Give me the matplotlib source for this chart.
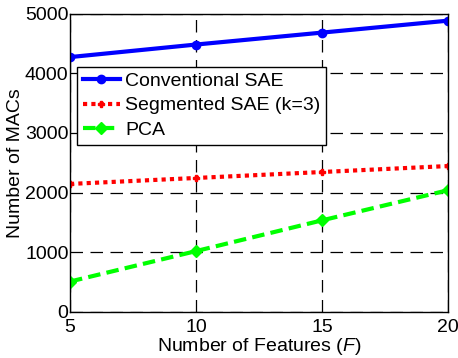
import numpy as np
import matplotlib.pyplot as plt

plt.rcParams['font.family'] = ['Liberation Sans', 'DejaVu Sans']
plt.rcParams['mathtext.fontset'] = 'custom'
plt.rcParams['mathtext.it'] = 'Liberation Sans:italic'

features = [5, 10, 15, 20]
conventional = [4270, 4480, 4680, 4880]
segmented = [2145, 2245, 2345, 2445]
pca = [510, 1020, 1535, 2040]

fig = plt.figure(figsize=(4.58, 3.58), dpi=100)
ax = fig.add_axes([70 / 458, 1 - 312 / 358, 378 / 458, 298.5 / 358])

ax.plot(features, conventional, color='#0000ff', lw=3, marker='o', ms=6,
        label='Conventional SAE')
ax.plot(features, segmented, color='#ff0000', lw=3, ls=(0, (1, 1)), marker='P', ms=5,
        label='Segmented SAE (k=3)')
ax.plot(features, pca, color='#00ff00', lw=3, ls=(0, (3, 1.5)), marker='D', ms=6,
        label='PCA')

ax.set_xlim(5, 20)
ax.set_ylim(0, 5000)
ax.set_xticks([5, 10, 15, 20])
ax.set_yticks(np.arange(0, 5001, 1000))
ax.grid(True, color='black', ls=(0, (10, 6)), lw=0.9)
ax.tick_params(labelsize=14, direction='in', length=0)
ax.tick_params(axis='x', pad=5)
ax.tick_params(axis='y', pad=1)
for s in ax.spines.values():
    s.set_linewidth(1)

ax.set_xlabel('Number of Features ($F$)', fontsize=14, labelpad=0)
ax.set_ylabel('Number of MACs', fontsize=14, labelpad=1)

leg = ax.legend(loc='upper left', bbox_to_anchor=(0.018, 0.822), fontsize=14,
                frameon=True, fancybox=False, edgecolor='black', framealpha=1,
                borderpad=0.3, labelspacing=0.35, handlelength=1.9, handletextpad=0.3,
                borderaxespad=0)
leg.get_frame().set_linewidth(1)

plt.savefig('out.png', dpi=100)
